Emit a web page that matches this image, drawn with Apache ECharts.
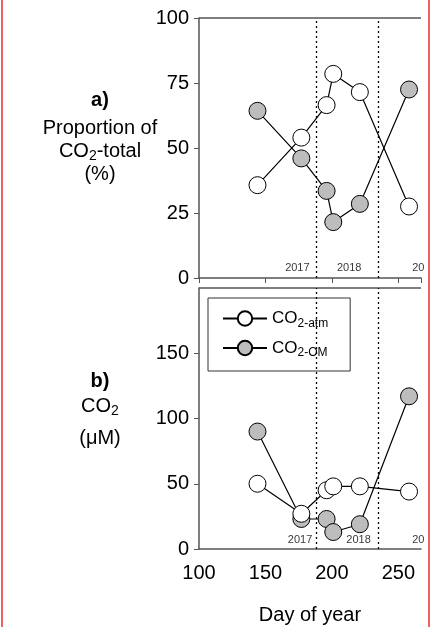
<!DOCTYPE html>
<html>
<head>
<meta charset="utf-8">
<script src="https://cdn.jsdelivr.net/npm/echarts@6/dist/echarts.min.js"></script>
<style>
html,body{margin:0;padding:0;background:#fff;}
#chart{width:433px;height:627px;}
</style>
</head>
<body>
<div id="chart"></div>
<script>
// 采样日 (day of year)
var days = [144, 177, 196, 201, 221, 258];
// a) 比例 %
var propAtm = [35.7, 54, 66.5, 78.5, 71.5, 27.5];
var propOM = [64.3, 46, 33.5, 21.5, 28.5, 72.5];
// b) CO2 浓度 µM
var concAtm = [50, 27, 45, 48, 48, 44];
var concOM = [90, 23, 23, 13, 19, 117];
// 年份分界线
var yearLines = [188, 235];
var yearTextsA = [[174, 4, "2017"], [213, 4, "2018"], [265, 4, "20"]];
var yearTextsB = [[176, 7, "2017"], [220, 7, "2018"], [265, 7, "20"]];

var font = "Liberation Sans";
var fs = 20;
var chart = echarts.init(document.getElementById("chart"));

function pts(y) {
	return days.map(function(d, i) { return [d, y[i]]; });
}

function lineSeries(name, data, fill, g) {
	return {
		name: name, type: "line", xAxisIndex: g, yAxisIndex: g,
		data: pts(data), symbol: "circle", symbolSize: 17,
		lineStyle: { color: "#000", width: 1.2 },
		itemStyle: { color: fill, borderColor: "#000", borderWidth: 1 },
		z: 5
	};
}

function yearSeries(arr, g) {
	return {
		type: "scatter", xAxisIndex: g, yAxisIndex: g, symbolSize: 0, silent: true,
		data: arr.map(function(a) { return { value: [a[0], a[1]], label: { formatter: a[2] } }; }),
		label: { show: true, position: "inside", fontFamily: font, fontSize: 11, color: "#000" },
		markLine: {
			silent: true, symbol: "none", label: { show: false },
			lineStyle: { type: [2, 3], color: "#000", width: 1.3 },
			data: yearLines.map(function(v) { return { xAxis: v }; })
		}
	};
}

var rich = { sub: { fontSize: 12, fontFamily: font, padding: [10, 0, 0, 0] } };

function label(txt, y, bold) {
	return { type: "text", x: 100, y: y, style: { text: txt, fontFamily: font, fontSize: fs,
		fontWeight: bold ? "bold" : "normal", align: "center", verticalAlign: "middle", fill: "#000",
		rich: { sub: { fontSize: 14, fontFamily: font, padding: [10, 0, 0, 0] } } } };
}

var option = {
	animation: false,
	grid: [
		{ left: 199, top: 18, right: 12, height: 260 },
		{ left: 199, top: 288, right: 12, height: 261 }
	],
	xAxis: [0, 1].map(function(g) {
		return {
			gridIndex: g, type: "value", min: 100, max: 267, interval: 50,
			axisLine: { show: true, lineStyle: { color: "#555", width: 1.5 } },
			axisTick: { show: g === 0, length: 5, lineStyle: { color: "#555" } },
			splitLine: { show: false },
			axisLabel: { show: g === 1, fontFamily: font, fontSize: fs, color: "#000", margin: 14,
				showMaxLabel: false },
			name: g === 1 ? "Day of year" : "", nameLocation: "middle", nameGap: 56,
			nameTextStyle: { fontFamily: font, fontSize: fs, color: "#000" }
		};
	}),
	yAxis: [
		{ gridIndex: 0, type: "value", min: 0, max: 100, interval: 25,
			axisLine: { show: true, lineStyle: { color: "#555", width: 1.5 } },
			axisTick: { show: true, length: 5, lineStyle: { color: "#555" } },
			splitLine: { show: false },
			axisLabel: { fontFamily: font, fontSize: fs, color: "#000", margin: 10 } },
		{ gridIndex: 1, type: "value", min: 0, max: 200, interval: 50,
			axisLine: { show: true, lineStyle: { color: "#555", width: 1.5 } },
			axisTick: { show: true, length: 5, lineStyle: { color: "#555" } },
			splitLine: { show: false },
			axisLabel: { fontFamily: font, fontSize: fs, color: "#000", margin: 10,
				showMaxLabel: false } }
	],
	legend: {
		left: 208, top: 298, width: 120, orient: "vertical",
		padding: [12, 22, 12, 14], itemGap: 10, itemWidth: 44, itemHeight: 18,
		borderColor: "#333", borderWidth: 1, backgroundColor: "#fff",
		data: ["CO2-atm", "CO2-OM"],
		formatter: function(n) { return n === "CO2-atm" ? "CO{sub|2-atm}" : "CO{sub|2-OM}"; },
		textStyle: { fontFamily: font, fontSize: 17, color: "#000", rich: rich }
	},
	graphic: [
		{ type: "line", shape: { x1: 199, y1: 18, x2: 421, y2: 18 }, style: { stroke: "#555", lineWidth: 1.5 } },
		{ type: "line", shape: { x1: 199, y1: 288, x2: 421, y2: 288 }, style: { stroke: "#555", lineWidth: 1.5 } },
		{ type: "line", shape: { x1: 2, y1: 0, x2: 2, y2: 627 }, style: { stroke: "#e23030", lineWidth: 1.5 } },
		{ type: "line", shape: { x1: 429, y1: 0, x2: 429, y2: 627 }, style: { stroke: "#e23030", lineWidth: 1.5 } },
		label("a)", 100, true),
		label("Proportion of", 128),
		label("CO{sub|2}-total", 151),
		label("(%)", 174),
		label("b)", 381, true),
		label("CO{sub|2}", 406),
		label("(\u03bcM)", 438)
	],
	series: [
		lineSeries("CO2-OM", propOM, "#bdbdbd", 0),
		lineSeries("CO2-atm", propAtm, "#fff", 0),
		yearSeries(yearTextsA, 0),
		lineSeries("CO2-OM", concOM, "#bdbdbd", 1),
		lineSeries("CO2-atm", concAtm, "#fff", 1),
		yearSeries(yearTextsB, 1)
	]
};
chart.setOption(option);
</script>
</body>
</html>
